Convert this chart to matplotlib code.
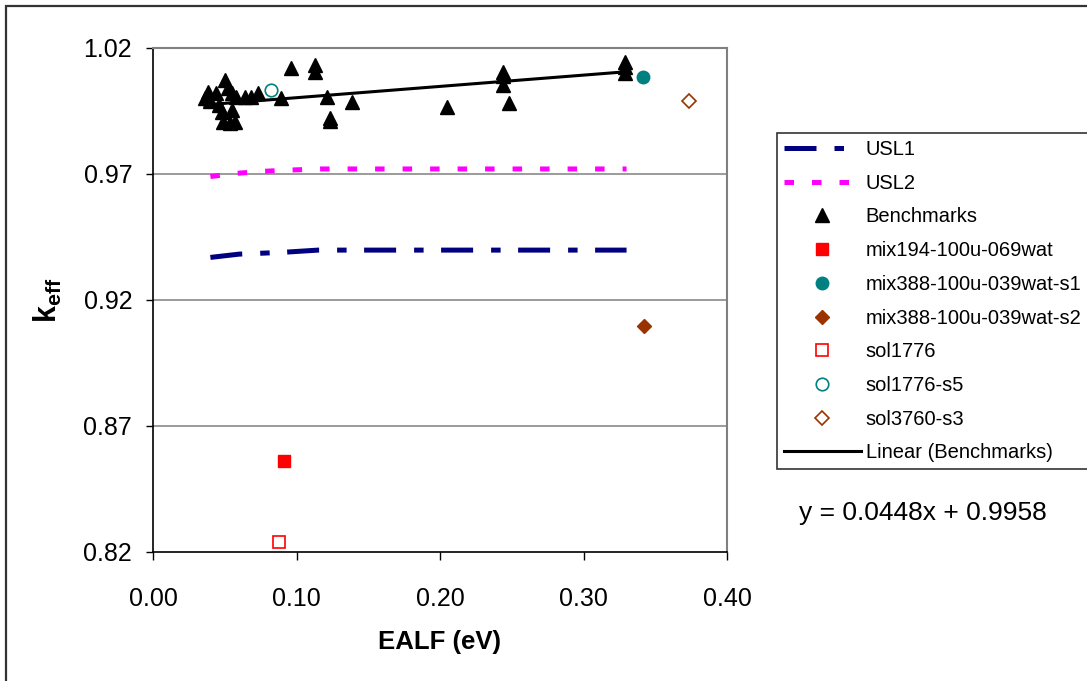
import matplotlib
matplotlib.use('Agg')
import matplotlib.pyplot as plt
from matplotlib.patches import Rectangle

plt.rcParams['font.family'] = ['Liberation Sans', 'DejaVu Sans']
plt.rcParams['mathtext.fontset'] = 'custom'
plt.rcParams['mathtext.bf'] = 'Liberation Sans:bold'
plt.rcParams['mathtext.rm'] = 'Liberation Sans'

# benchmark EALF / keff values
bench_x = [0.036, 0.038, 0.040, 0.044, 0.046, 0.048, 0.049, 0.050, 0.052, 0.054,
           0.055, 0.055, 0.057, 0.058, 0.064, 0.068, 0.073, 0.089, 0.096, 0.113,
           0.113, 0.121, 0.123, 0.123, 0.139, 0.205, 0.244, 0.244, 0.244, 0.248,
           0.329, 0.329, 0.329]
bench_y = [1.0000, 1.0027, 0.9990, 1.0020, 0.9974, 0.9947, 0.9908, 1.0073, 1.0040, 0.9901,
           1.0020, 0.9954, 0.9908, 1.0007, 1.0007, 1.0007, 1.0021, 1.0000, 1.0120, 1.0133,
           1.0106, 1.0007, 0.9921, 0.9909, 0.9984, 0.9967, 1.0106, 1.0090, 1.0055, 0.9981,
           1.0146, 1.0126, 1.0100]

usl1_x = [0.040, 0.060, 0.090, 0.115, 0.330]
usl1_y = [0.9369, 0.9382, 0.9389, 0.9398, 0.9398]
usl2_x = [0.040, 0.059, 0.078, 0.097, 0.117, 0.330]
usl2_y = [0.9690, 0.9703, 0.9711, 0.9716, 0.9720, 0.9720]

# single application points
mix194_x, mix194_y = [0.0911], [0.8562]
mix388s1_x, mix388s1_y = [0.3417], [1.0084]
mix388s2_x, mix388s2_y = [0.3424], [0.9098]
sol1776_x, sol1776_y = [0.0878], [0.8238]
sol1776s5_x, sol1776s5_y = [0.0820], [1.0033]
sol3760s3_x, sol3760s3_y = [0.3737], [0.9991]

slope, intercept = 0.0448, 0.9958

xticks = [0.0, 0.1, 0.2, 0.3, 0.4]
yticks = [0.82, 0.87, 0.92, 0.97, 1.02]

fig = plt.figure(figsize=(10.87, 6.81), dpi=100)
ax = fig.add_axes([153/1087, 1 - 552/681, 574/1087, 504/681])

for yv in yticks[1:]:
    ax.axhline(yv, color='#808080', lw=1.1, zorder=0)

navy = '#000080'
magenta = '#FF00FF'
teal = '#008080'
brown = '#993300'

l1, = ax.plot(usl1_x, usl1_y, color=navy, lw=3.6, dashes=(6.4, 3.6, 1.9, 3.5),
              solid_capstyle='butt', dash_capstyle='butt', label='USL1')
l2, = ax.plot(usl2_x, usl2_y, color=magenta, lw=3.6, dashes=(1.9, 3.6),
              dash_capstyle='butt', label='USL2')
bm, = ax.plot(bench_x, bench_y, ls='none', marker='^', ms=10.5, color='black',
              label='Benchmarks', zorder=4)
m1, = ax.plot(mix194_x, mix194_y, ls='none', marker='s', ms=8.5, color='red',
              label='mix194-100u-069wat')
m2, = ax.plot(mix388s1_x, mix388s1_y, ls='none', marker='o', ms=9, color=teal,
              label='mix388-100u-039wat-s1')
m3, = ax.plot(mix388s2_x, mix388s2_y, ls='none', marker='D', ms=7.5, color=brown,
              label='mix388-100u-039wat-s2')
s1, = ax.plot(sol1776_x, sol1776_y, ls='none', marker='s', ms=8.5, mfc='white',
              mec='red', mew=1.2, label='sol1776')
s2, = ax.plot(sol1776s5_x, sol1776s5_y, ls='none', marker='o', ms=9, mfc='none',
              mec=teal, mew=1.2, label='sol1776-s5')
s3, = ax.plot(sol3760s3_x, sol3760s3_y, ls='none', marker='D', ms=7.5, mfc='white',
              mec=brown, mew=1.2, label='sol3760-s3')
tx = [min(bench_x), max(bench_x)]
tr, = ax.plot(tx, [slope * v + intercept for v in tx], color='black', lw=2.2,
              label='Linear (Benchmarks)', zorder=5)

ax.set_xlim(0, 0.4)
ax.set_ylim(0.82, 1.02)
ax.set_xticks(xticks)
ax.set_xticklabels(['%.2f' % v for v in xticks])
ax.set_yticks(yticks)
ax.set_yticklabels(['%.2f' % v for v in yticks])
ax.tick_params(axis='y', direction='out', length=5, width=1, pad=10, labelsize=18)
ax.tick_params(axis='x', direction='out', length=6, width=1, pad=19, labelsize=18)
for s in ['top', 'right']:
    ax.spines[s].set_color('#808080')
    ax.spines[s].set_linewidth(1.5)
for s in ['left', 'bottom']:
    ax.spines[s].set_color('black')
    ax.spines[s].set_linewidth(1.2)

ax.set_xlabel('EALF (eV)', fontsize=18.5, fontweight='bold', labelpad=14)
ax.set_ylabel(r'$\mathbf{k_{eff}}$', fontsize=22, labelpad=14)

leg = fig.legend(handles=[l1, l2, bm, m1, m2, m3, s1, s2, s3, tr],
                 loc='upper left', bbox_to_anchor=(777/1087, 1 - 133/681),
                 fontsize=14.5, frameon=True, fancybox=False, edgecolor='black',
                 handlelength=3.8, handletextpad=0.25, labelspacing=0.73,
                 borderpad=0.35, borderaxespad=0)
leg.get_frame().set_linewidth(1.2)

fig.text(923/1087, 1 - 513/681, 'y = 0.0448x + 0.9958', fontsize=19,
         ha='center', va='center')

fig.patches.append(Rectangle((6/1087, -0.1), 1.2, 1 - 6/681 + 0.1,
                             transform=fig.transFigure, fill=False,
                             edgecolor='#333333', lw=1.6))

fig.savefig('out.png', dpi=100)
